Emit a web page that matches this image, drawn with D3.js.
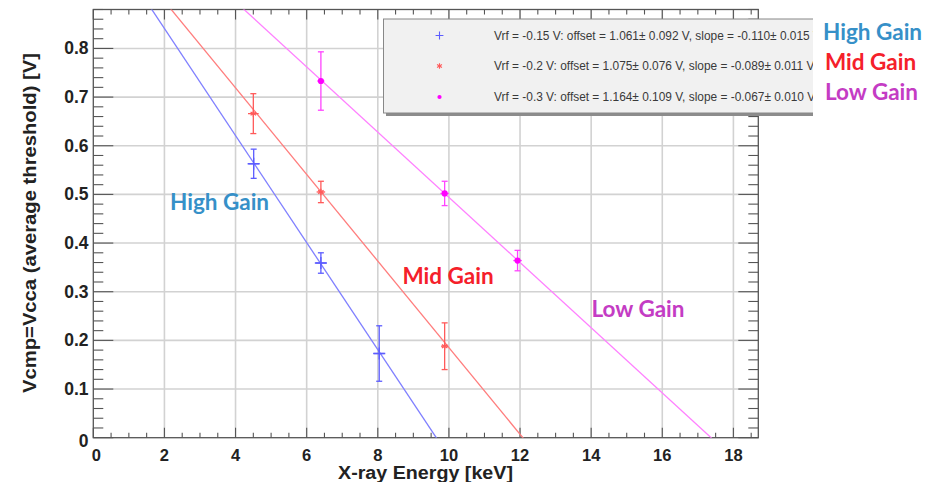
<!DOCTYPE html>
<html>
<head>
<meta charset="utf-8">
<script src="https://cdn.jsdelivr.net/npm/d3@7"></script>
<style>
  html, body { margin: 0; padding: 0; background: #fff; }
  svg { display: block; }
</style>
</head>
<body>
<svg id="chart" width="934" height="482"></svg>
<script>
// ---------------- data ----------------
const seriesNames = ["High Gain", "Mid Gain", "Low Gain"];
const legendLabels = [
  "Vrf = -0.15 V: offset = 1.061\u00b1 0.092 V, slope = -0.110\u00b1 0.015 V",
  "Vrf = -0.2 V: offset = 1.075\u00b1 0.076 V, slope = -0.089\u00b1 0.011 V",
  "Vrf = -0.3 V: offset = 1.164\u00b1 0.109 V, slope = -0.067\u00b1 0.010 V"
];
const energyHigh = [4.51, 6.40, 8.04];
const energyMid  = [4.50, 6.40, 9.88];
const energyLow  = [6.40, 9.88, 11.93];
const vcmpHigh = [0.563, 0.359, 0.173];
const vcmpMid  = [0.666, 0.505, 0.188];
const vcmpLow  = [0.733, 0.502, 0.364];
const errYHigh = [0.030, 0.021, 0.057];
const errYMid  = [0.041, 0.022, 0.048];
const errYLow  = [0.060, 0.025, 0.021];
const errXHigh = [0.15, 0.15, 0.15];
const errXMid  = [0.15, 0.12, 0.10];
const errXLow  = [0.10, 0.12, 0.12];
const fitOffsets = [1.061, 1.075, 1.164];
const fitSlopes  = [-0.110, -0.089, -0.067];
const xTicks = [0, 2, 4, 6, 8, 10, 12, 14, 16, 18];
const yTicks = [0, 0.1, 0.2, 0.3, 0.4, 0.5, 0.6, 0.7, 0.8];
const xLabel = "X-ray Energy [keV]";
const yLabel = "Vcmp=Vcca (average threshold) [V]";

// ---------------- styles ----------------
const lineColors   = ["#7f7fff", "#ff7d7d", "#ff80ff"];
const errColors    = ["#5c5cff", "#ff5a5a", "#ff44ff"];
const labelColors  = ["#3690c8", "#f5202a", "#c43cc4"];

const svg = d3.select("#chart");
const L = 93.3, R = 758.3, T = 9.5, B = 437.7;
const x = d3.scaleLinear().domain([0, 18.7]).range([L, R]);
const y = d3.scaleLinear().domain([0, 0.88]).range([B, T]);

// grid
const grid = svg.append("g");
grid.selectAll("line.gx").data(xTicks.filter(t => t > 0)).enter().append("line")
  .attr("x1", d => x(d)).attr("x2", d => x(d)).attr("y1", T).attr("y2", B)
  .attr("stroke", "#d2d2d2").attr("stroke-width", 1.6);
grid.selectAll("line.gy").data(yTicks.filter(t => t > 0)).enter().append("line")
  .attr("x1", L).attr("x2", R).attr("y1", d => y(d)).attr("y2", d => y(d))
  .attr("stroke", "#d2d2d2").attr("stroke-width", 1.6);

// axes ticks (major + minor, all four sides)
const xMinor = d3.range(0, 18.7001, 0.5);
const yMinor = d3.range(0, 0.8801, 0.02).map(v => +v.toFixed(3));
const ax = svg.append("g").attr("stroke", "#555").attr("stroke-width", 1.1);
function isMajorX(v){ return Math.abs(v/2 - Math.round(v/2)) < 1e-6; }
function isMajorY(v){ return Math.abs(v*10 - Math.round(v*10)) < 1e-6; }
xMinor.forEach(v => {
  const len = isMajorX(v) ? 10 : 5;
  ax.append("line").attr("x1", x(v)).attr("x2", x(v)).attr("y1", B).attr("y2", B - len);
  ax.append("line").attr("x1", x(v)).attr("x2", x(v)).attr("y1", T).attr("y2", T + len);
});
yMinor.forEach(v => {
  const len = isMajorY(v) ? 20 : 10;
  ax.append("line").attr("x1", L).attr("x2", L + len).attr("y1", y(v)).attr("y2", y(v));
  ax.append("line").attr("x1", R).attr("x2", R - len).attr("y1", y(v)).attr("y2", y(v));
});

// frame
svg.append("rect").attr("x", L).attr("y", T).attr("width", R - L).attr("height", B - T)
  .attr("fill", "none").attr("stroke", "#555").attr("stroke-width", 1.3);

// tick labels
const tickFont = "'Liberation Sans', Arial, sans-serif";
svg.append("g").selectAll("text").data(xTicks).enter().append("text")
  .attr("x", d => x(d) + (d === 0 ? 3 : 0)).attr("y", 461)
  .attr("text-anchor", "middle").attr("font-family", tickFont).attr("font-weight", "bold")
  .attr("font-size", 16.5).attr("fill", "#222").text(d => d);
svg.append("g").selectAll("text").data(yTicks).enter().append("text")
  .attr("x", 88.5).attr("y", d => y(d) + (d === 0 ? 9 : 6))
  .attr("text-anchor", "end").attr("font-family", tickFont).attr("font-weight", "bold")
  .attr("font-size", 17.5).attr("fill", "#222").text(d => d === 0 ? "0" : d.toFixed(1));

// axis titles
svg.append("text").attr("x", 425.5).attr("y", 478.5).attr("text-anchor", "middle")
  .attr("font-family", tickFont).attr("font-weight", "bold").attr("font-size", 17.5)
  .attr("textLength", 175).attr("lengthAdjust", "spacingAndGlyphs")
  .attr("fill", "#222").text(xLabel);
svg.append("text").attr("transform", "translate(36,223) rotate(-90)").attr("text-anchor", "middle")
  .attr("font-family", tickFont).attr("font-weight", "bold").attr("font-size", 18)
  .attr("textLength", 340).attr("lengthAdjust", "spacingAndGlyphs")
  .attr("fill", "#222").text(yLabel);

// clip for fit lines
svg.append("clipPath").attr("id", "plotclip").append("rect")
  .attr("x", L).attr("y", T).attr("width", R - L).attr("height", B - T);

// fit lines
const fitX = [0, 18.7];
const lineGen = d3.line().x(d => x(d[0])).y(d => y(d[1]));
fitOffsets.forEach((off, i) => {
  const pts = fitX.map(e => [e, off + fitSlopes[i] * e]);
  svg.append("path").attr("d", lineGen(pts)).attr("clip-path", "url(#plotclip)")
    .attr("fill", "none").attr("stroke", lineColors[i]).attr("stroke-width", 1.3);
});

// data points with error bars
const series = [
  {e: energyHigh, v: vcmpHigh, ey: errYHigh, ex: errXHigh, sym: d3.symbolPlus, size: 50, fill: false},
  {e: energyMid,  v: vcmpMid,  ey: errYMid,  ex: errXMid,  sym: d3.symbolAsterisk, size: 28, fill: false},
  {e: energyLow,  v: vcmpLow,  ey: errYLow,  ex: errXLow,  sym: d3.symbolCircle, size: 30, fill: true}
];
series.forEach((s, i) => {
  const g = svg.append("g").attr("stroke", errColors[i]).attr("stroke-width", 1.3);
  s.e.forEach((e, j) => {
    const cx = x(e), cy = y(s.v[j]);
    const y1 = y(s.v[j] + s.ey[j]), y2 = y(s.v[j] - s.ey[j]);
    g.append("line").attr("x1", cx).attr("x2", cx).attr("y1", y1).attr("y2", y2);
    g.append("line").attr("x1", cx - 3).attr("x2", cx + 3).attr("y1", y1).attr("y2", y1);
    g.append("line").attr("x1", cx - 3).attr("x2", cx + 3).attr("y1", y2).attr("y2", y2);
    g.append("line").attr("x1", x(e - s.ex[j])).attr("x2", x(e + s.ex[j])).attr("y1", cy).attr("y2", cy);
    g.append("path").attr("transform", `translate(${cx},${cy})`)
      .attr("d", d3.symbol(s.sym, s.size)())
      .attr("fill", s.fill ? "#ff00ff" : "none")
      .attr("stroke", s.fill ? "none" : errColors[i]).attr("stroke-width", 1.3);
  });
});

// in-plot labels
const gainFont = "Lato, 'Open Sans', sans-serif";
const inPlotPos = [[170, 209.5], [402.5, 283.5], [591.5, 317]];
seriesNames.forEach((n, i) => {
  svg.append("text").attr("x", inPlotPos[i][0]).attr("y", inPlotPos[i][1])
    .attr("font-family", gainFont).attr("font-weight", "bold").attr("font-size", 22.5)
    .attr("fill", labelColors[i]).text(n);
});

// legend
const lg = svg.append("g");
lg.append("rect").attr("x", 386).attr("y", 22).attr("width", 440).attr("height", 94).attr("fill", "#8c8c8c");
lg.append("rect").attr("x", 383.5).attr("y", 19).attr("width", 440).attr("height", 94)
  .attr("fill", "#f1f1f1").attr("stroke", "#888").attr("stroke-width", 1);
const rowY = [35.5, 66, 97];
series.forEach((s, i) => {
  lg.append("path").attr("transform", `translate(439.5,${rowY[i]})`)
    .attr("d", d3.symbol(s.sym, s.fill ? 14 : 22)())
    .attr("fill", s.fill ? "#ff00ff" : "none")
    .attr("stroke", s.fill ? "none" : errColors[i]).attr("stroke-width", 1.1);
  lg.append("text").attr("x", 494).attr("y", rowY[i] + 4)
    .attr("font-family", tickFont).attr("font-size", 11.9).attr("fill", "#3a3a3a")
    .text(legendLabels[i]);
});

// white label panel on the right
svg.append("rect").attr("x", 813).attr("y", 14).attr("width", 121).attr("height", 110).attr("fill", "#fff");
const rightPos = [[823, 40], [825, 70], [825, 99.5]];
seriesNames.forEach((n, i) => {
  svg.append("text").attr("x", rightPos[i][0]).attr("y", rightPos[i][1])
    .attr("font-family", gainFont).attr("font-weight", "bold").attr("font-size", 22.5)
    .attr("fill", labelColors[i]).text(n);
});
</script>
</body>
</html>
